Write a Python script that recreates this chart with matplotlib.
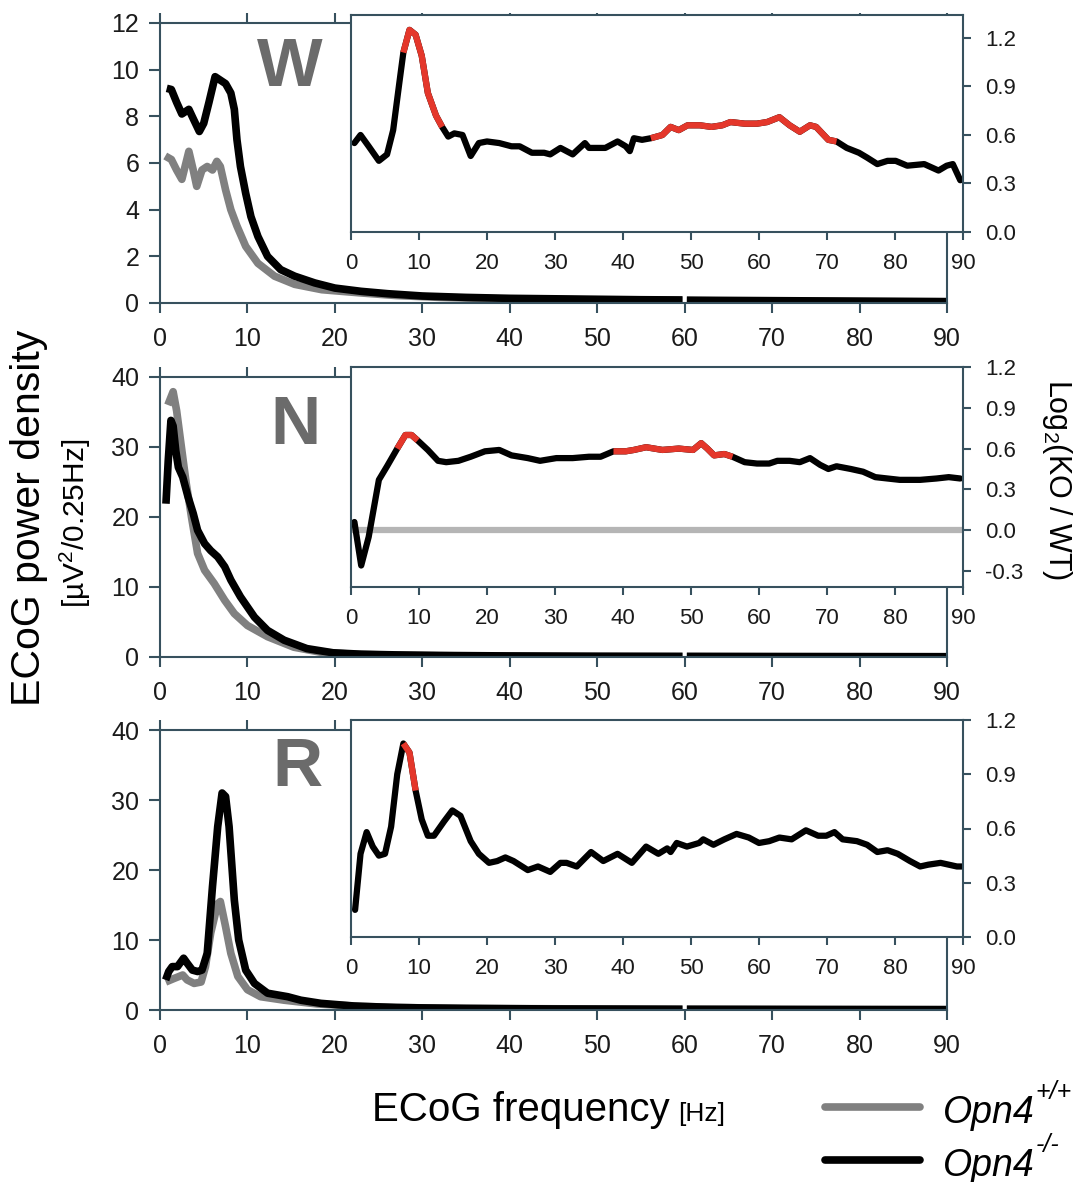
import numpy as np
import matplotlib.pyplot as plt
from matplotlib.lines import Line2D
from matplotlib.ticker import FormatStrFormatter

plt.rcParams['font.family'] = ['Liberation Sans', 'DejaVu Sans']
plt.rcParams['axes.unicode_minus'] = False
plt.rcParams['mathtext.fontset'] = 'custom'
plt.rcParams['mathtext.rm'] = 'Liberation Sans'
plt.rcParams['mathtext.it'] = 'Liberation Sans:italic'

nan = np.nan

# ---- main spectra (power density), W / N / R ----
w_f_ko = [0.77, 1.3, 1.9, 2.5, 3.3, 3.8, 4.5, 5.0, 5.6, 6.3, 6.9, 7.5, 8.1, 8.5, 8.8, 9.2, 9.8, 10.4, 11.2,
          12.3, 13.8, 15.4, 17.7, 20, 23, 26, 30, 35, 40, 45, 50, 55, 59.75, 60, 60.25, 65, 70, 75, 80, 85, 90]
w_ko = [9.2, 9.15, 8.6, 8.1, 8.3, 7.9, 7.35, 7.7, 8.6, 9.7, 9.55, 9.4, 9.0, 8.3, 7.0, 5.85, 4.7, 3.7, 2.85,
        2.0, 1.43, 1.15, 0.86, 0.64, 0.5, 0.4, 0.3, 0.24, 0.2, 0.18, 0.16, 0.14, 0.13, nan, 0.12, 0.11, 0.1,
        0.09, 0.08, 0.07, 0.06]
w_f_wt = [0.6, 1.3, 1.9, 2.5, 3.3, 3.8, 4.2, 4.8, 5.4, 6.0, 6.5, 6.9, 7.5, 8.1, 8.8, 9.8, 11.2, 13.1, 15.4,
          18.5, 23, 27, 32, 40, 50, 59.75, 60, 60.25, 70, 80, 90]
w_wt = [6.3, 6.15, 5.7, 5.3, 6.5, 5.7, 5.0, 5.7, 5.85, 5.7, 6.07, 5.85, 4.85, 4.0, 3.3, 2.43, 1.7, 1.15, 0.8,
        0.57, 0.43, 0.32, 0.24, 0.17, 0.13, 0.11, nan, 0.1, 0.08, 0.06, 0.05]

n_f_ko = [0.68, 0.94, 1.25, 1.5, 1.8, 2.1, 2.6, 3.2, 3.8, 4.3, 5.1, 5.8, 6.6, 7.4, 8.1, 9.2, 10.8, 12.3, 14.2,
          16.8, 19.8, 23, 27, 32, 40, 50, 59.75, 60, 60.25, 70, 80, 90]
n_ko = [21.9, 28, 33.8, 33, 29.5, 27.1, 25.7, 22.9, 20.5, 18.1, 16.2, 15.2, 14.3, 12.9, 11.0, 8.6, 5.7, 3.8,
        2.4, 1.2, 0.6, 0.4, 0.3, 0.22, 0.15, 0.1, 0.08, nan, 0.08, 0.06, 0.05, 0.04]
n_f_wt = [0.9, 1.5, 1.9, 2.5, 3.0, 3.6, 4.3, 5.1, 6.2, 7.4, 8.5, 10, 12.3, 15.3, 18.3, 22, 27, 35, 45,
          59.75, 60, 60.25, 75, 90]
n_wt = [36, 37.9, 35.2, 29.5, 24.8, 20, 14.8, 12.4, 10.5, 8.1, 6.2, 4.5, 2.9, 1.4, 0.7, 0.4, 0.25, 0.15, 0.1,
        0.07, nan, 0.07, 0.05, 0.03]

r_f_ko = [0.65, 1.0, 1.4, 2.0, 2.7, 3.1, 3.7, 4.3, 4.8, 5.4, 6.0, 6.6, 7.1, 7.5, 7.9, 8.5, 9.0, 9.8, 10.8,
          12.3, 14.6, 16.1, 18.4, 22.2, 27, 35, 45, 59.75, 60, 60.25, 75, 90]
r_ko = [4.3, 5.5, 6.2, 6.2, 7.4, 6.7, 5.7, 5.5, 5.7, 8.1, 17.6, 26.2, 31, 30.5, 26.2, 15.7, 10, 5.7, 3.8,
        2.4, 1.9, 1.4, 0.95, 0.57, 0.35, 0.22, 0.15, 0.1, nan, 0.1, 0.07, 0.05]
r_f_wt = [0.65, 1.6, 2.6, 3.1, 3.9, 4.7, 5.2, 5.8, 6.6, 6.9, 7.5, 8.1, 8.9, 10, 11.5, 14.2, 18, 23, 30, 40,
          59.75, 60, 60.25, 75, 90]
r_wt = [4.0, 4.5, 5.0, 4.3, 3.8, 4.0, 6.2, 11, 15.2, 15.5, 11.9, 8.1, 4.8, 2.9, 1.9, 1.4, 0.86, 0.5, 0.3,
        0.2, 0.1, nan, 0.1, 0.07, 0.05]

# ---- insets: log2(KO/WT) ----
wi_f = [0.5, 1.4, 2.6, 4.1, 5.3, 6.2, 7.1, 7.7, 8.6, 9.5, 10.4, 11.3, 12.5, 13.4, 14.3, 15.2, 16.4, 17.6,
        18.8, 20, 21.8, 23.6, 24.8, 26.6, 28.4, 29.3, 30.8, 32.6, 34.4, 35, 37.4, 39.2, 40.4, 41, 41.6,
        42.8, 44.1, 45.8, 47, 48.2, 49.5, 51.3, 53, 54.6, 55.8, 57.9, 59.7, 61.2, 63, 64.5, 66, 67.5,
        68.4, 70.2, 71.4, 72.9, 74.7, 75.9, 77.4, 78.9, 80.1, 81.8, 84.3, 86.4, 87.6, 88.5, 89.6]
wi_v = [0.55, 0.60, 0.53, 0.44, 0.48, 0.63, 0.92, 1.11, 1.25, 1.22, 1.09, 0.86, 0.72, 0.65, 0.59, 0.61,
        0.60, 0.47, 0.55, 0.56, 0.55, 0.53, 0.53, 0.49, 0.49, 0.48, 0.52, 0.48, 0.55, 0.52, 0.52, 0.56,
        0.53, 0.50, 0.58, 0.57, 0.58, 0.60, 0.65, 0.63, 0.66, 0.66, 0.65, 0.66, 0.68, 0.67, 0.67, 0.68,
        0.71, 0.66, 0.62, 0.66, 0.65, 0.57, 0.56, 0.52, 0.49, 0.46, 0.42, 0.44, 0.44, 0.41, 0.42, 0.38,
        0.41, 0.42, 0.32]
wi_sig = [(7.7, 13.4), (44.1, 71.4)]

ni_f = [0.5, 1.5, 2.6, 4.1, 5.3, 6.8, 8, 8.9, 9.8, 11.3, 12.8, 14, 15.8, 17.6, 19.7, 21.8, 23.6, 26, 27.8,
        30.2, 32.6, 35, 36.7, 38.6, 40.4, 41.6, 43.4, 45.8, 48.2, 50.3, 51.5, 52.4, 53.4, 54.9, 56.1, 57.9,
        59.7, 61.5, 62.7, 64.5, 66, 67.5, 69, 70.2, 71.4, 73.5, 75.3, 77.1, 78.9, 80.7, 83.7, 86.1, 87.9, 89.6]
ni_v = [0.06, -0.26, -0.05, 0.37, 0.47, 0.60, 0.70, 0.70, 0.66, 0.59, 0.51, 0.50, 0.51, 0.54, 0.58, 0.59,
        0.55, 0.53, 0.51, 0.53, 0.53, 0.54, 0.54, 0.58, 0.58, 0.59, 0.61, 0.59, 0.60, 0.59, 0.64, 0.60,
        0.55, 0.56, 0.54, 0.50, 0.49, 0.49, 0.51, 0.51, 0.50, 0.53, 0.48, 0.45, 0.47, 0.45, 0.43, 0.39,
        0.38, 0.37, 0.37, 0.38, 0.39, 0.38]
ni_sig = [(6.8, 9.8), (38.6, 56.1)]

ri_f = [0.6, 1.4, 2.3, 3.2, 4.1, 5, 5.9, 6.8, 7.7, 8.6, 9.5, 10.4, 11.3, 12.2, 13.7, 14.9, 16.1, 17.6, 18.8,
        20.3, 21.5, 22.7, 23.9, 26, 27.5, 29.3, 30.8, 31.7, 33.2, 35.3, 37.1, 39.2, 41.3, 43.4, 45.2, 46.5,
        47, 47.9, 49.4, 51.2, 51.8, 53.3, 54.9, 56.7, 58.5, 60, 61.5, 63, 64.8, 66.9, 68.7, 69.9, 71.1,
        72.3, 74.4, 75.9, 77.4, 78.9, 80.4, 82.2, 83.7, 84.9, 86.7, 87.9, 89.1, 90]
ri_v = [0.15, 0.46, 0.58, 0.50, 0.45, 0.46, 0.61, 0.90, 1.07, 1.02, 0.81, 0.65, 0.56, 0.56, 0.64, 0.70,
        0.67, 0.53, 0.46, 0.41, 0.42, 0.44, 0.42, 0.37, 0.39, 0.36, 0.41, 0.41, 0.39, 0.47, 0.42, 0.46,
        0.41, 0.50, 0.46, 0.49, 0.47, 0.52, 0.50, 0.52, 0.54, 0.51, 0.54, 0.57, 0.55, 0.52, 0.53, 0.55,
        0.54, 0.59, 0.56, 0.56, 0.58, 0.54, 0.53, 0.51, 0.47, 0.48, 0.46, 0.42, 0.39, 0.40, 0.41, 0.40,
        0.39, 0.39]
ri_sig = [(7.7, 9.5)]

W, H = 1080, 1182
fig = plt.figure(figsize=(W / 100, H / 100), dpi=100)
SPINE = '#37515e'
GRAY = '#808080'
RED = '#e4372b'


def box(l, t, r, b):
    return [l / W, 1 - b / H, (r - l) / W, (b - t) / H]


def px(x, y):
    return x / W, 1 - y / H


def main_panel(rect, fko, ko, fwt, wt, ymax, ystep):
    ax = fig.add_axes(box(*rect))
    ax.plot(fwt, wt, color=GRAY, lw=5.5, solid_capstyle='butt', solid_joinstyle='round')
    ax.plot(fko, ko, color='black', lw=5.5, solid_capstyle='butt', solid_joinstyle='round')
    ax.set_xlim(0, 90)
    ax.set_ylim(0, ymax)
    ax.set_xticks(range(0, 91, 10))
    ax.set_yticks(np.arange(0, ymax + 0.1, ystep))
    for s in ax.spines.values():
        s.set_color(SPINE)
        s.set_linewidth(1.5)
    ax.tick_params(axis='x', top=True, direction='out', length=7, width=1.5, color=SPINE,
                   labelsize=18, pad=10, labelcolor='#1a1a1a')
    ax.tick_params(axis='y', direction='out', length=8, width=1.5, color=SPINE,
                   labelsize=18, pad=7, labelcolor='#1a1a1a')
    return ax


def inset_panel(rect, f, v, sig, ylo, yhi, yticks, zero_line=False):
    ax = fig.add_axes(box(*rect), zorder=2)
    ax.set_facecolor('white')
    f = np.array(f)
    v = np.array(v)
    if zero_line:
        ax.axhline(0, color='#b5b5b5', lw=4.5)
    ax.plot(f, v, color='black', lw=4.5, solid_capstyle='round', solid_joinstyle='round')
    for lo, hi in sig:
        m = (f >= lo) & (f <= hi)
        ax.plot(f[m], v[m], color=RED, lw=4.5, solid_capstyle='butt', solid_joinstyle='round')
    ax.set_xlim(0, 90)
    ax.set_ylim(ylo, yhi)
    ax.set_xticks(range(0, 91, 10))
    ax.set_yticks(yticks)
    ax.yaxis.tick_right()
    ax.yaxis.set_major_formatter(FormatStrFormatter('%.1f'))
    for s in ax.spines.values():
        s.set_color(SPINE)
        s.set_linewidth(1.5)
    ax.tick_params(axis='x', direction='out', length=6, width=1.5, color=SPINE,
                   labelsize=16, pad=9, labelcolor='#1a1a1a')
    ax.tick_params(axis='y', direction='out', length=6, width=1.5, color=SPINE,
                   labelsize=16, pad=10, labelcolor='#1a1a1a')
    return ax


main_panel((160, 23, 947, 303), w_f_ko, w_ko, w_f_wt, w_wt, 12, 2)
main_panel((160, 377, 947, 657), n_f_ko, n_ko, n_f_wt, n_wt, 40, 10)
main_panel((160, 730, 947, 1010), r_f_ko, r_ko, r_f_wt, r_wt, 40, 10)

inset_panel((351, 15, 963, 232), wi_f, wi_v, wi_sig, 0, 1.342, [0, 0.3, 0.6, 0.9, 1.2])
inset_panel((351, 367, 963, 587), ni_f, ni_v, ni_sig, -0.418, 1.2,
            [-0.3, 0, 0.3, 0.6, 0.9, 1.2], zero_line=True)
inset_panel((351, 720, 963, 937), ri_f, ri_v, ri_sig, 0, 1.2, [0, 0.3, 0.6, 0.9, 1.2])

# panel letters
for letter, (x, y) in zip(['W', 'N', 'R'], [(290, 68), (295, 426), (297, 768)]):
    fig.text(*px(x, y), letter, fontsize=50, fontweight='bold', color='#6b6b6b',
             ha='center', va='center')

renderer = fig.canvas.get_renderer()


def right_edge(t):
    bb = t.get_window_extent(renderer)
    return bb.x1


# axis labels
fig.text(*px(29, 518), 'ECoG power density', fontsize=29.5, rotation=90, ha='center', va='center')
fig.text(*px(75, 523), r'[µV$^2$/0.25Hz]', fontsize=21.5, rotation=90, ha='center', va='center')
fig.text(*px(1057, 480), r'Log$_2$(KO / WT)', fontsize=22, rotation=270, ha='center', va='center')
t = fig.text(*px(372, 1121), 'ECoG frequency', fontsize=29, ha='left', va='baseline')
fig.text((right_edge(t) + 8) / W, 1 - 1121 / H, '[Hz]', fontsize=19, ha='left', va='baseline')

# legend
for y, c, sup in [(1107, GRAY, '+/+'), (1160, 'black', '-/-')]:
    x0, y0 = px(825, y)
    x1, _ = px(920, y)
    fig.add_artist(Line2D([x0, x1], [y0, y0], transform=fig.transFigure, color=c, lw=5.5,
                          solid_capstyle='round'))
    t = fig.text(*px(943, y + 16), 'Opn4', fontsize=27, style='italic', ha='left', va='baseline')
    fig.text((right_edge(t) + 1) / W, 1 - (y - 8) / H, sup, fontsize=18, style='italic',
             ha='left', va='baseline')

fig.savefig('out.png', dpi=100)
